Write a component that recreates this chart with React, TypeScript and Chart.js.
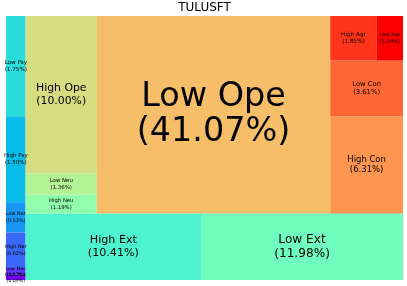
import React, { useEffect, useRef } from "react";
import { Chart, registerables } from "chart.js";

Chart.register(...registerables);

const chartTitle = "TULUSFT";
const categories = [
  "High Mac", "Low Mac", "High Nar", "Low Nar", "High Psy", "Low Psy",
  "High Ext", "Low Ext", "High Neu", "Low Neu", "High Ope", "Low Ope",
  "High Con", "Low Con", "High Agr", "Low Agr",
];
const percentages = [
  0.09, 0.12, 0.62, 0.53, 1.5, 1.75,
  10.41, 11.98, 1.19, 1.36, 10.0, 41.07,
  6.31, 3.61, 1.85, 1.04,
];

type Rect = { x: number; y: number; dx: number; dy: number };

const sum = (a: number[]) => a.reduce((s, v) => s + v, 0);

function normalizeSizes(sizes: number[], dx: number, dy: number) {
  const total = sum(sizes);
  return sizes.map((s) => (s * dx * dy) / total);
}
function layoutRow(sizes: number[], x: number, y: number, dx: number, dy: number): Rect[] {
  const width = sum(sizes) / dy;
  const rects: Rect[] = [];
  for (const s of sizes) {
    rects.push({ x, y, dx: width, dy: s / width });
    y += s / width;
  }
  return rects;
}
function layoutCol(sizes: number[], x: number, y: number, dx: number, dy: number): Rect[] {
  const height = sum(sizes) / dx;
  const rects: Rect[] = [];
  for (const s of sizes) {
    rects.push({ x, y, dx: s / height, dy: height });
    x += s / height;
  }
  return rects;
}
function layout(sizes: number[], x: number, y: number, dx: number, dy: number) {
  return dx >= dy ? layoutRow(sizes, x, y, dx, dy) : layoutCol(sizes, x, y, dx, dy);
}
function leftover(sizes: number[], x: number, y: number, dx: number, dy: number): [number, number, number, number] {
  const c = sum(sizes);
  if (dx >= dy) {
    const w = c / dy;
    return [x + w, y, dx - w, dy];
  }
  const h = c / dx;
  return [x, y + h, dx, dy - h];
}
function worstRatio(sizes: number[], x: number, y: number, dx: number, dy: number) {
  return Math.max(...layout(sizes, x, y, dx, dy).map((r) => Math.max(r.dx / r.dy, r.dy / r.dx)));
}
function squarify(sizes: number[], x: number, y: number, dx: number, dy: number): Rect[] {
  if (sizes.length === 0) return [];
  if (sizes.length === 1) return layout(sizes, x, y, dx, dy);
  let i = 1;
  while (i < sizes.length && worstRatio(sizes.slice(0, i), x, y, dx, dy) >= worstRatio(sizes.slice(0, i + 1), x, y, dx, dy)) i++;
  const current = sizes.slice(0, i);
  const remaining = sizes.slice(i);
  const [lx, ly, ldx, ldy] = leftover(current, x, y, dx, dy);
  return layout(current, x, y, dx, dy).concat(squarify(remaining, lx, ly, ldx, ldy));
}

function rainbow(t: number) {
  const r = Math.min(1, Math.abs(2 * t - 0.5));
  const g = Math.sin(Math.PI * t);
  const b = Math.cos((Math.PI * t) / 2);
  return `rgb(${Math.round(r * 255)},${Math.round(g * 255)},${Math.round(b * 255)})`;
}

const fontFor = (v: number) => 4.6 + 0.6 * v + 0.0025 * v * v;

const treemapPlugin = {
  id: "treemapCells",
  beforeDatasetsDraw(chart: any) {
    const xs = chart.scales.x;
    const ys = chart.scales.y;
    const ctx = chart.ctx;
    const rects = squarify(normalizeSizes(percentages, 100, 100), 0, 0, 100, 100);
    ctx.save();
    rects.forEach((r, i) => {
      const l = xs.getPixelForValue(r.x);
      const rt = xs.getPixelForValue(r.x + r.dx);
      const t = ys.getPixelForValue(r.y + r.dy);
      const b = ys.getPixelForValue(r.y);
      ctx.fillStyle = rainbow(i / (percentages.length - 1));
      ctx.fillRect(l, t, rt - l, b - t);
    });
    rects.forEach((r, i) => {
      const cx = (xs.getPixelForValue(r.x) + xs.getPixelForValue(r.x + r.dx)) / 2;
      const cy = (ys.getPixelForValue(r.y) + ys.getPixelForValue(r.y + r.dy)) / 2;
      const f = fontFor(percentages[i]);
      const lh = f + 1.5;
      ctx.font = `${f}px "DejaVu Sans"`;
      ctx.fillStyle = "#000";
      ctx.textAlign = "center";
      ctx.textBaseline = "middle";
      ctx.fillText(categories[i], cx, cy - lh / 2);
      ctx.fillText(`(${percentages[i].toFixed(2)}%)`, cx, cy + lh / 2);
    });
    ctx.restore();
  },
};

export default function App() {
  const ref = useRef<HTMLCanvasElement | null>(null);
  useEffect(() => {
    if (!ref.current) return;
    const chart = new Chart(ref.current, {
      type: "scatter",
      data: { datasets: [{ data: [] as any[], pointRadius: 0 }] },
      options: {
        animation: false,
        responsive: false,
        layout: { padding: { left: 6, right: 4, top: 0, bottom: 6 } },
        scales: {
          x: { type: "linear", min: 0, max: 100, display: false },
          y: { type: "linear", min: 0, max: 100, display: false },
        },
        plugins: {
          legend: { display: false },
          tooltip: { enabled: false },
          title: {
            display: true,
            text: chartTitle,
            color: "#000",
            font: { family: "DejaVu Sans", size: 12, weight: "normal", lineHeight: 1.2 },
            padding: { top: 1, bottom: 0.6 },
          },
        },
      },
      plugins: [treemapPlugin],
    });
    return () => chart.destroy();
  }, []);
  return (
    <div style={{ position: "fixed", left: 0, top: 0, width: 407, height: 286, background: "#fff" }}>
      <canvas ref={ref} width={407} height={286} />
    </div>
  );
}
